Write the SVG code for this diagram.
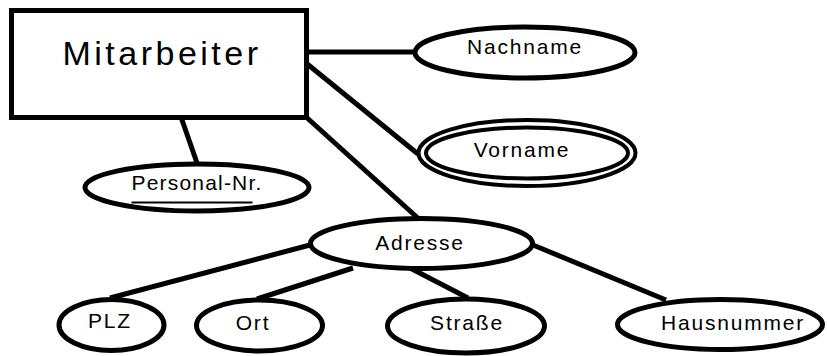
<svg xmlns="http://www.w3.org/2000/svg" width="827" height="356" viewBox="0 0 827 356">
<style>
.s{fill:#fff;stroke:#000;stroke-width:5}
.c line{stroke:#000;stroke-width:5}
text{font-family:"Liberation Sans",Arial,sans-serif;font-size:21px;letter-spacing:1.8px;text-anchor:middle;fill:#000}
</style>
<rect width="827" height="356" fill="#fff"/>
<g id="connectors" class="c">
<line x1="308" y1="52" x2="414" y2="52"/>
<line x1="306" y1="63" x2="418" y2="154"/>
<line x1="305" y1="116" x2="420" y2="220"/>
<line x1="181" y1="117" x2="197" y2="163"/>
<line x1="310" y1="245" x2="110" y2="298"/>
<line x1="353" y1="268" x2="257" y2="299"/>
<line x1="410" y1="268" x2="468" y2="298"/>
<line x1="533" y1="245" x2="666" y2="300"/>
</g>
<g id="mitarbeiter">
<rect class="s" x="11.5" y="10.5" width="295" height="107"/>
<text x="162" y="65" style="font-size:34px;letter-spacing:3.5px">Mitarbeiter</text>
</g>
<g id="nachname">
<ellipse class="s" cx="525" cy="52.5" rx="110" ry="25.5"/>
<text x="525" y="54">Nachname</text>
</g>
<g id="vorname">
<ellipse class="s" cx="527" cy="153" rx="108.5" ry="33" style="stroke-width:4"/>
<ellipse class="s" cx="527" cy="153" rx="101" ry="25.5" style="stroke-width:4"/>
<text x="522" y="157">Vorname</text>
</g>
<g id="personal-nr">
<ellipse class="s" cx="197" cy="187.5" rx="112" ry="23.5"/>
<text x="197" y="190" style="letter-spacing:1.2px">Personal-Nr.</text>
<line x1="131.5" y1="202.5" x2="252.5" y2="202.5" stroke="#000" stroke-width="2"/>
</g>
<g id="adresse">
<ellipse class="s" cx="421.5" cy="243.5" rx="111" ry="25"/>
<text x="420" y="250">Adresse</text>
</g>
<g id="plz">
<ellipse class="s" cx="111.5" cy="325" rx="52.5" ry="25.5"/>
<text x="110" y="328">PLZ</text>
</g>
<g id="ort">
<ellipse class="s" cx="259.5" cy="325.5" rx="63" ry="25.5"/>
<text x="253" y="330">Ort</text>
</g>
<g id="strasse">
<ellipse class="s" cx="466" cy="326" rx="78.5" ry="27"/>
<text x="467" y="330">Straße</text>
</g>
<g id="hausnummer">
<ellipse class="s" cx="720" cy="324.5" rx="102.5" ry="25"/>
<text x="733" y="330">Hausnummer</text>
</g>
</svg>
